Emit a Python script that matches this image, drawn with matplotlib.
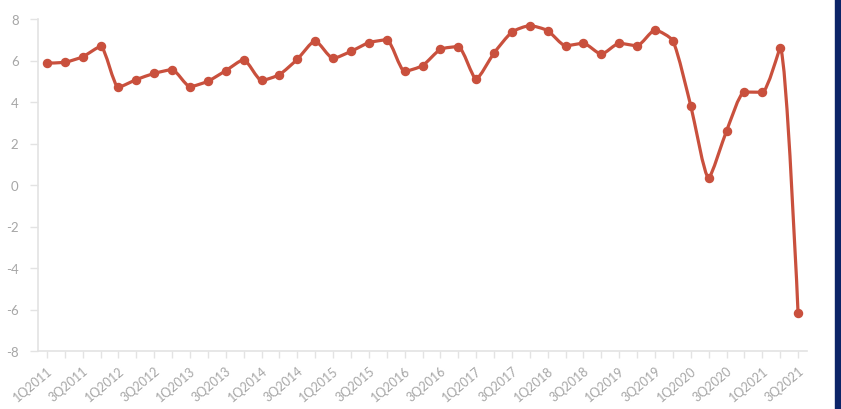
import matplotlib.pyplot as plt
from matplotlib.path import Path
from matplotlib.patches import PathPatch, Rectangle
import numpy as np

# --------------------- Data --------------------- #
quarters = [f"{q}Q{y}" for y in range(2011, 2022) for q in range(1, 5)][:43]
growth = [5.88, 5.91, 6.18, 6.68, 4.71, 5.08, 5.38, 5.56, 4.74, 5.00,
          5.51, 6.04, 5.04, 5.32, 6.06, 6.95, 6.10, 6.44, 6.86, 7.00,
          5.48, 5.75, 6.54, 6.67, 5.11, 6.36, 7.37, 7.68, 7.44, 6.71,
          6.83, 6.30, 6.83, 6.71, 7.47, 6.95, 3.82, 0.35, 2.60, 4.48,
          4.47, 6.60, -6.18]
y_ticks = [-8, -6, -4, -2, 0, 2, 4, 6, 8]

line_color = '#c9503d'
grey = '#a6a6a6'
axis_grey = '#e3e3e3'


def clamp(v, a, b):
    return min(max(v, min(a, b)), max(a, b))


def smooth_path(xs, ys, sx, sy, smooth=0.2):
    """Bezier smoothing with control points kept inside each segment's box."""
    px = [x * sx for x in xs]
    py = [y * sy for y in ys]
    n = len(px)
    verts = [(px[0], py[0])]
    codes = [Path.MOVETO]
    cpx0, cpy0 = px[0], py[0]
    for k in range(1, n):
        x, y = px[k], py[k]
        prev_x, prev_y = px[k - 1], py[k - 1]
        if k >= n - 1:
            cpx1, cpy1 = x, y
            ncpx0, ncpy0 = x, y
        else:
            next_x, next_y = px[k + 1], py[k + 1]
            vx, vy = next_x - prev_x, next_y - prev_y
            len_prev = np.hypot(x - prev_x, y - prev_y)
            len_next = np.hypot(next_x - x, next_y - y)
            ratio = len_next / (len_next + len_prev)
            ncpx0 = clamp(x + vx * smooth * ratio, x, next_x)
            ncpy0 = clamp(y + vy * smooth * ratio, y, next_y)
            vx, vy = ncpx0 - x, ncpy0 - y
            cpx1 = clamp(x - vx * len_prev / len_next, prev_x, x)
            cpy1 = clamp(y - vy * len_prev / len_next, prev_y, y)
            vx, vy = x - cpx1, y - cpy1
            ncpx0 = x + vx * len_next / len_prev
            ncpy0 = y + vy * len_next / len_prev
        verts += [(cpx0, cpy0), (cpx1, cpy1), (x, y)]
        codes += [Path.CURVE4] * 3
        cpx0, cpy0 = ncpx0, ncpy0
    verts = [(vx_ / sx, vy_ / sy) for vx_, vy_ in verts]
    return Path(verts, codes)


fig = plt.figure(figsize=(8.41, 4.10), dpi=100)
ax = fig.add_axes([38 / 841, 58 / 410, 769 / 841, 332 / 410])

x = np.arange(len(quarters))
path = smooth_path(x, growth, 17.88, 20.75)
ax.add_patch(PathPatch(path, facecolor='none', edgecolor=line_color,
                       lw=2.3, capstyle='round', joinstyle='round', zorder=3))
ax.plot(x, growth, 'o', color=line_color, markersize=5.8, zorder=4)

ax.set_xlim(-0.5, len(quarters) - 0.5)
ax.set_ylim(-8, 8)
ax.set_yticks(y_ticks)
ax.set_yticklabels([str(v) for v in y_ticks], fontsize=9.5, color=grey,
                   family='Lato')
ax.set_xticks(x)
ax.set_xticklabels([q if i % 2 == 0 else '' for i, q in enumerate(quarters)],
                   rotation=40, ha='right', rotation_mode='anchor',
                   fontsize=9, color=grey, family='Lato')

for side in ['top', 'right']:
    ax.spines[side].set_visible(False)
for side in ['left', 'bottom']:
    ax.spines[side].set_color(axis_grey)
    ax.spines[side].set_linewidth(1.2)
ax.tick_params(axis='y', length=6, color=axis_grey, width=1, pad=8)
ax.tick_params(axis='x', length=5, color=axis_grey, width=1, pad=4)

# dark strip on the right edge
fig.patches.append(Rectangle((835 / 841, 0), 6 / 841, 1, transform=fig.transFigure,
                             color='#0c2468', zorder=10))

plt.savefig('out.png', dpi=100)
plt.close()
